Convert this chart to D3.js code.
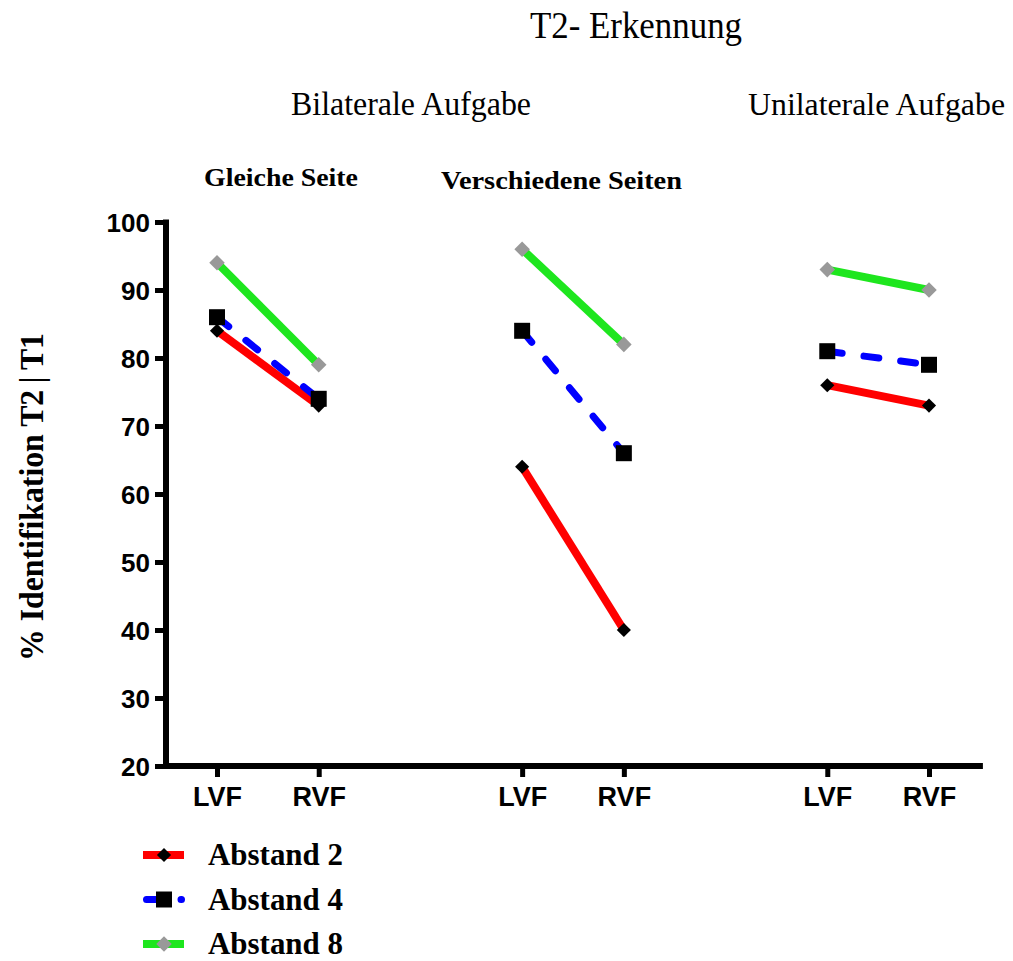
<!DOCTYPE html>
<html>
<head>
<meta charset="utf-8">
<script src="https://cdn.jsdelivr.net/npm/d3@7"></script>
<style>
  body { margin: 0; background: #fff; }
  svg { display: block; }
</style>
</head>
<body>
<svg id="chart" width="1013" height="961"></svg>
<script>
// Task groups and visual-field conditions
const groups = ["Gleiche Seite", "Verschiedene Seiten", "Unilaterale Aufgabe"];
const conditions = ["LVF", "RVF"];

// % Identifikation T2|T1, ordered group by group, LVF then RVF
const abstand2 = [84, 73, 64, 40, 76, 73];
const abstand4 = [86, 74, 84, 66, 81, 79];
const abstand8 = [94, 79, 96, 82, 93, 90];

const seriesNames = ["Abstand 2", "Abstand 4", "Abstand 8"];
const yTicks = [20, 30, 40, 50, 60, 70, 80, 90, 100];

const serif = "'Liberation Serif', 'Times New Roman', serif";
const sans = "'Liberation Sans', Arial, sans-serif";

const svg = d3.select("#chart");

// Each group takes three slots: LVF, RVF and a blank spacer
const slot = (g, c) => g * 3 + c;

const x = d3.scaleLinear().domain([0, 7]).range([217, 929]);
const y = d3.scaleLinear().domain([20, 100]).range([766, 222]);

const series = [
  { name: seriesNames[0], values: abstand2, color: "#ff0000", dash: null,
    shape: "diamond", fill: "#000000", size: 10 },
  { name: seriesNames[1], values: abstand4, color: "#0000ff", dash: "15,22",
    shape: "square", fill: "#000000", size: 16 },
  { name: seriesNames[2], values: abstand8, color: "#1ee61e", dash: null,
    shape: "diamond", fill: "#999999", size: 11 }
];

function drawMarker(sel, s, cx, cy) {
  const g = sel.append("g").attr("transform", `translate(${cx},${cy})`);
  const path = d3.symbol().type(d3.symbolSquare).size(s.size * s.size)();
  g.append("path")
    .attr("d", path)
    .attr("fill", s.fill)
    .attr("transform", s.shape === "diamond" ? "rotate(45)" : null);
}

// Serif label squeezed to a fixed width, like a condensed Times face
function label(text, xPos, yPos, size, width, bold) {
  return svg.append("text")
    .attr("x", xPos).attr("y", yPos)
    .attr("font-family", serif)
    .attr("font-weight", bold ? "bold" : "normal")
    .attr("font-size", size)
    .attr("textLength", width)
    .attr("lengthAdjust", "spacingAndGlyphs")
    .text(text);
}

// ---- Axes ----
const yAxis = d3.axisLeft(y)
  .tickValues(yTicks)
  .tickSize(11)
  .tickSizeOuter(0)
  .tickPadding(5);

const yG = svg.append("g")
  .attr("transform", "translate(166,0)")
  .call(yAxis);
yG.select(".domain").remove();
yG.selectAll(".tick line").attr("stroke", "#000").attr("stroke-width", 5);
yG.selectAll(".tick text")
  .attr("font-family", sans)
  .attr("font-weight", "bold")
  .attr("font-size", 26)
  .attr("fill", "#000")
  .attr("dy", null)
  .attr("dominant-baseline", "central");

svg.append("line")
  .attr("x1", 166).attr("x2", 166)
  .attr("y1", y(100) - 2.5).attr("y2", y(20) + 3)
  .attr("stroke", "#000").attr("stroke-width", 6);

const xTickSlots = [];
const xTickLabels = [];
groups.forEach((g, gi) => conditions.forEach((c, ci) => {
  xTickSlots.push(slot(gi, ci));
  xTickLabels.push(c);
}));

const xAxis = d3.axisBottom(x)
  .tickValues(xTickSlots)
  .tickFormat((d, i) => xTickLabels[i])
  .tickSize(11)
  .tickSizeOuter(0)
  .tickPadding(10);

const xG = svg.append("g")
  .attr("transform", `translate(0,${y(20)})`)
  .call(xAxis);
xG.select(".domain").remove();
xG.selectAll(".tick line").attr("stroke", "#000").attr("stroke-width", 5);
xG.selectAll(".tick text")
  .attr("font-family", sans)
  .attr("font-weight", "bold")
  .attr("font-size", 27)
  .attr("fill", "#000");

svg.append("line")
  .attr("x1", 163).attr("x2", x(7.53))
  .attr("y1", y(20)).attr("y2", y(20))
  .attr("stroke", "#000").attr("stroke-width", 6);

// ---- Data lines and markers ----
const plot = svg.append("g");
series.forEach(s => {
  groups.forEach((g, gi) => {
    const pts = conditions.map((c, ci) => [x(slot(gi, ci)), y(s.values[gi * 2 + ci])]);
    plot.append("path")
      .attr("d", d3.line()(pts))
      .attr("fill", "none")
      .attr("stroke", s.color)
      .attr("stroke-width", s.dash ? 7 : 8)
      .attr("stroke-dasharray", s.dash)
      .attr("stroke-linecap", s.dash ? "round" : "butt");
  });
});
series.forEach(s => {
  groups.forEach((g, gi) => {
    conditions.forEach((c, ci) => {
      drawMarker(plot, s, x(slot(gi, ci)), y(s.values[gi * 2 + ci]));
    });
  });
});

// ---- Titles ----
label("T2- Erkennung", 530, 38, 38, 212, false);
label("Bilaterale Aufgabe", 291, 115, 34, 240, false);
label(groups[2], 748, 115, 32, 257, false);
label(groups[0], 204, 186, 25, 154, true);
label(groups[1], 441, 189, 25, 241, true);

// Y axis title
svg.append("text")
  .attr("transform", "translate(43,497) rotate(-90)")
  .attr("text-anchor", "middle")
  .attr("font-family", serif).attr("font-weight", "bold").attr("font-size", 34)
  .attr("textLength", 328).attr("lengthAdjust", "spacingAndGlyphs")
  .text("% Identifikation T2\u2009|\u2009T1");

// ---- Legend ----
const legend = svg.append("g");
series.forEach((s, i) => {
  const cy = 855 + i * 44.5;
  if (s.dash) {
    legend.append("path")
      .attr("d", `M146.5,${cy}H181.5`)
      .attr("stroke", s.color).attr("stroke-width", 7)
      .attr("stroke-linecap", "round")
      .attr("stroke-dasharray", "15,19.5");
  } else {
    legend.append("line")
      .attr("x1", 143).attr("x2", 184)
      .attr("y1", cy).attr("y2", cy)
      .attr("stroke", s.color).attr("stroke-width", 8);
  }
  drawMarker(legend, s, 164, cy);
  legend.append("text")
    .attr("x", 208).attr("y", cy + 10)
    .attr("font-family", serif).attr("font-weight", "bold").attr("font-size", 31)
    .attr("textLength", 135).attr("lengthAdjust", "spacingAndGlyphs")
    .text(s.name);
});
</script>
</body>
</html>
